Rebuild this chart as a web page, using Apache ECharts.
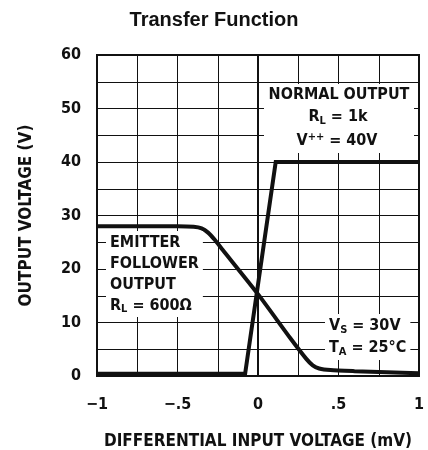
<!DOCTYPE html>
<html>
<head>
<meta charset="utf-8">
<script src="https://cdn.jsdelivr.net/npm/echarts@6/dist/echarts.min.js"></script>
<style>
  html, body { margin: 0; padding: 0; background: #fff; }
  #chart { width: 428px; height: 450px; }
</style>
</head>
<body>
<div id="chart"></div>
<script>
// values
const normalX = [-1, -0.08, 0.11, 1]
const normalY = [0.4, 0.4, 40, 40]
const emitterX = [-1, -0.5, -0.4, -0.35, -0.31, -0.27, -0.22, 0, 0.2, 0.3, 0.34, 0.38, 0.45, 0.6, 0.8, 1]
const emitterY = [28, 28, 27.9, 27.6, 26.8, 25.5, 23.6, 15.3, 7.1, 3.2, 2.0, 1.4, 1.1, 0.9, 0.7, 0.5]
const xTickValues = [-1, -0.5, 0, 0.5, 1]
const xTickLabels = ['−1', '−.5', '0', '.5', '1']
const yTickValues = [0, 10, 20, 30, 40, 50, 60]
const yTickLabels = ['0', '10', '20', '30', '40', '50', '60']

const pairs = (xs, ys) => xs.map((x, i) => [x, ys[i]])
const lbl = (vals, labels) => v => {
  const i = vals.findIndex(t => Math.abs(t - v) < 1e-6)
  return i >= 0 ? labels[i] : ''
}

const condensed = '"DejaVu Sans Condensed", "DejaVu Sans", sans-serif'
const ink = '#111'
const subStyle = lh => ({ fontFamily: condensed, fontWeight: 'bold', fontSize: 11, lineHeight: lh, padding: [8, 0, 0, 0] })
const supStyle = lh => ({ fontFamily: condensed, fontWeight: 'bold', fontSize: 11, lineHeight: lh, padding: [0, 0, 8, 0] })

// one line of annotation text, centred on cx
const note = (text, cx, top) => ({
  type: 'text', x: cx, y: top, z: 11,
  style: {
    text, x: 0, y: 0, align: 'center', verticalAlign: 'top',
    fontFamily: condensed, fontWeight: 'bold', fontSize: 16, fill: ink, lineHeight: 22,
    rich: { sub: subStyle(22), sup: supStyle(22) }
  }
})

const chart = echarts.init(document.getElementById('chart'), null, { renderer: 'canvas' })
chart.setOption({
  animation: false,
  title: {
    text: 'Transfer Function',
    left: 'center',
    top: 5,
    textStyle: { fontFamily: '"Liberation Sans", Arial, sans-serif', fontWeight: 'bold', fontSize: 20, color: ink }
  },
  grid: {
    left: 97, right: 9, top: 55, bottom: 74, containLabel: false, outerBoundsMode: 'none',
    show: true, borderColor: ink, borderWidth: 2, backgroundColor: 'transparent'
  },
  xAxis: {
    type: 'value', min: -1, max: 1, interval: 0.25,
    name: 'DIFFERENTIAL INPUT VOLTAGE (mV)',
    nameLocation: 'middle', nameGap: 57,
    nameTextStyle: { fontFamily: condensed, fontWeight: 'bold', fontSize: 17, color: ink },
    axisLine: { show: true, onZero: false, lineStyle: { color: ink, width: 2 } },
    axisTick: { show: false },
    splitLine: { show: true, lineStyle: { color: ink, width: 1 } },
    axisLabel: { margin: 21, formatter: lbl(xTickValues, xTickLabels), fontFamily: condensed, fontWeight: 'bold', fontSize: 16, color: ink }
  },
  yAxis: {
    type: 'value', min: 0, max: 60, interval: 5,
    name: 'OUTPUT VOLTAGE (V)',
    nameLocation: 'middle', nameGap: 62,
    nameTextStyle: { fontFamily: condensed, fontWeight: 'bold', fontSize: 17, color: ink },
    axisLine: { show: true, lineStyle: { color: ink, width: 2 } },
    axisTick: { show: false },
    splitLine: { show: true, lineStyle: { color: ink, width: 1 } },
    axisLabel: { margin: 16, formatter: lbl(yTickValues, yTickLabels), fontFamily: condensed, fontWeight: 'bold', fontSize: 16, color: ink }
  },
  series: [
    {
      name: 'Normal output', type: 'line', data: pairs(normalX, normalY),
      showSymbol: false, lineStyle: { color: ink, width: 4, join: 'miter' }, z: 5
    },
    {
      name: 'Emitter follower', type: 'line', data: pairs(emitterX, emitterY),
      showSymbol: false, smooth: 0.2, lineStyle: { color: ink, width: 4 }, z: 5
    }
  ],
  graphic: [
    { type: 'rect', shape: { x: 264, y: 84, width: 150, height: 69 }, style: { fill: '#fff' }, z: 10 },
    note('NORMAL OUTPUT', 339, 84),
    note('R{sub|L} = 1k', 338, 106),
    note('V{sup|++} = 40V', 337, 130),
    {
      type: 'text', left: 106, top: 231, z: 10,
      style: {
        text: 'EMITTER\nFOLLOWER\nOUTPUT\nR{sub|L} = 600Ω',
        fontFamily: condensed, fontWeight: 'bold', fontSize: 16, fill: ink,
        backgroundColor: '#fff', padding: [1, 4, 1, 4], lineHeight: 21,
        rich: { sub: subStyle(21) }
      }
    },
    {
      type: 'text', left: 325, top: 314, z: 10,
      style: {
        text: 'V{sub|S} = 30V\nT{sub|A} = 25°C',
        fontFamily: condensed, fontWeight: 'bold', fontSize: 16, fill: ink,
        backgroundColor: '#fff', padding: [1, 4, 1, 4], lineHeight: 22,
        rich: { sub: subStyle(22) }
      }
    }
  ]
})
</script>
</body>
</html>
